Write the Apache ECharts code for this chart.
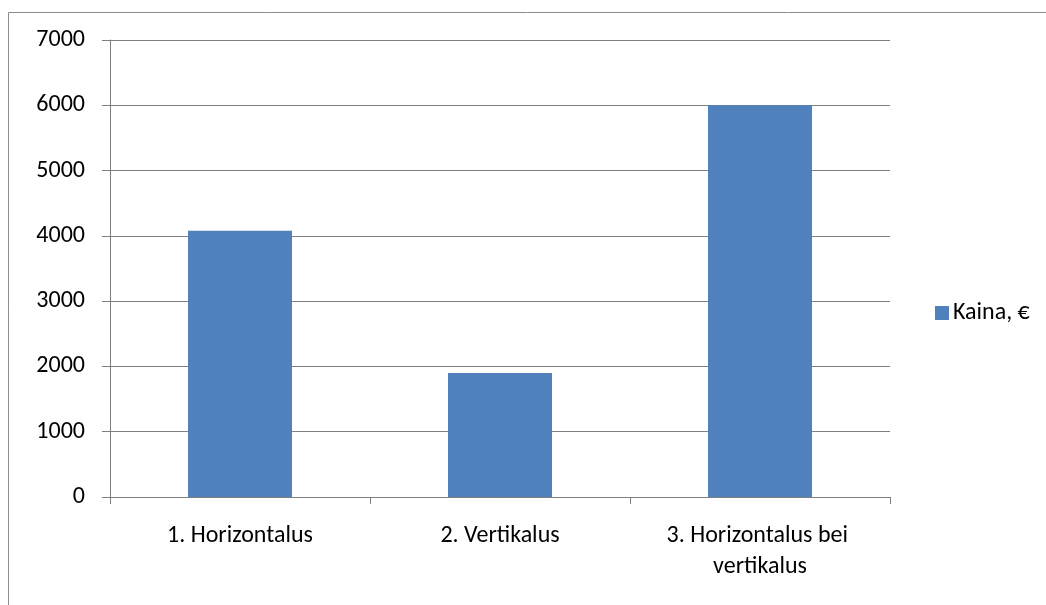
<!DOCTYPE html>
<html>
<head>
<meta charset="utf-8">
<script src="https://cdn.jsdelivr.net/npm/echarts@6/dist/echarts.min.js"></script>
<style>
  html, body { margin: 0; padding: 0; background: #fff; }
  #chart { width: 1046px; height: 605px; }
</style>
</head>
<body>
<div id="chart"></div>
<script>
// Price per installation variant
const categories = ['1. Horizontalus', '2. Vertikalus', '3. Horizontalus bei vertikalus'];
const prices = [4080, 1900, 6000];
const seriesName = 'Kaina, €';
const yTicks = { min: 0, max: 7000, interval: 1000 };

const FONT = 'Carlito, Lato, "Liberation Sans", sans-serif';
const FONT_SIZE = 24;
const GRAY = '#7f7f7f';

const chart = echarts.init(document.getElementById('chart'), null, { renderer: 'canvas' });

chart.setOption({
  backgroundColor: '#ffffff',
  animation: false,
  textStyle: { fontFamily: FONT },
  graphic: [{
    type: 'rect',
    shape: { x: 8.5, y: 12.5, width: 1100, height: 700 },
    style: { fill: 'none', stroke: '#8c8c8c', lineWidth: 1 },
    silent: true
  }],
  grid: { left: 110, right: 156, top: 40, bottom: 108 },
  legend: {
    data: [seriesName],
    left: 930,
    top: 296,
    orient: 'vertical',
    icon: 'rect',
    itemWidth: 14,
    itemHeight: 14,
    itemGap: 5,
    textStyle: { fontFamily: FONT, fontSize: FONT_SIZE, color: '#000', padding: [0, 0, 0, -1] }
  },
  xAxis: {
    type: 'category',
    data: categories,
    boundaryGap: true,
    axisLine: { show: true, lineStyle: { color: GRAY, width: 1 } },
    axisTick: { show: true, length: 7, alignWithLabel: false, lineStyle: { color: GRAY } },
    axisLabel: {
      fontFamily: FONT,
      fontSize: FONT_SIZE,
      color: '#000',
      margin: 23,
      lineHeight: 31,
      width: 245,
      overflow: 'break',
      interval: 0
    },
    splitLine: { show: false }
  },
  yAxis: {
    type: 'value',
    min: yTicks.min,
    max: yTicks.max,
    interval: yTicks.interval,
    axisLine: { show: true, lineStyle: { color: GRAY, width: 1 } },
    axisTick: { show: true, length: 8, lineStyle: { color: GRAY } },
    axisLabel: {
      fontFamily: FONT,
      fontSize: FONT_SIZE,
      color: '#000',
      margin: 25,
      formatter: (v) => String(v)
    },
    splitLine: { show: true, lineStyle: { color: GRAY, width: 1 } }
  },
  series: [{
    name: seriesName,
    type: 'bar',
    data: prices,
    barWidth: '40%',
    itemStyle: { color: '#4F81BD' }
  }]
});
</script>
</body>
</html>
